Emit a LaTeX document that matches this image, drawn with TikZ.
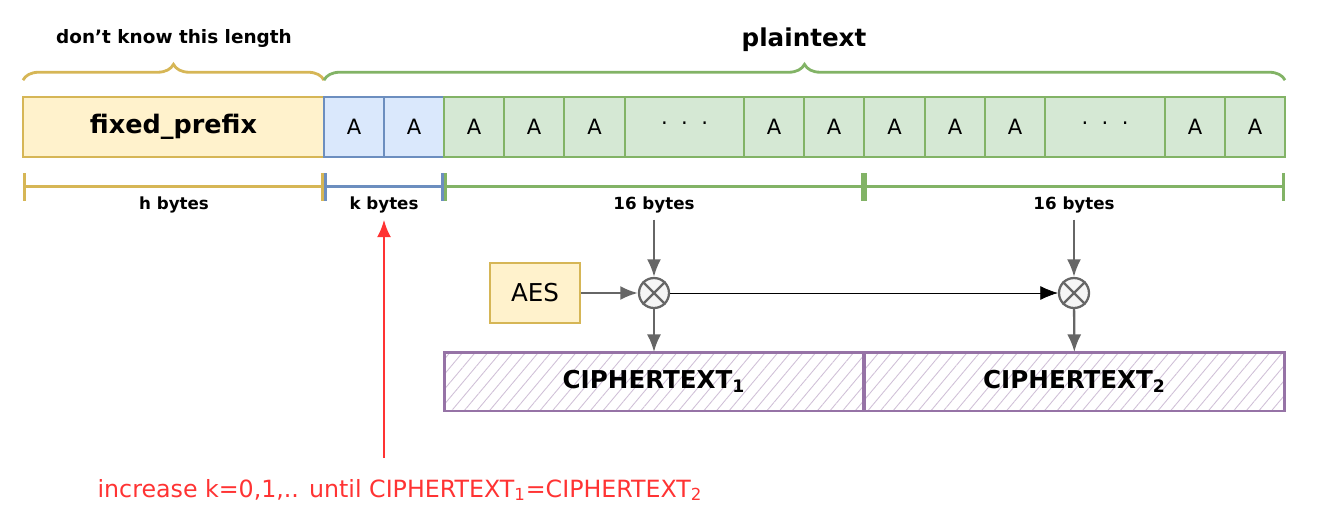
\documentclass[tikz,border=0pt]{standalone}
\usepackage{fontspec}
\setmainfont{DejaVu Sans}
\usetikzlibrary{arrows.meta,patterns.meta,decorations.pathreplacing,positioning}

\definecolor{yfill}{HTML}{FFF2CC}
\definecolor{ydraw}{HTML}{D6B656}
\definecolor{bfill}{HTML}{DAE8FC}
\definecolor{bdraw}{HTML}{6C8EBF}
\definecolor{gfill}{HTML}{D5E8D4}
\definecolor{gdraw}{HTML}{82B366}
\definecolor{pfill}{HTML}{E1D5E7}
\definecolor{pdraw}{HTML}{9673A6}
\definecolor{gline}{HTML}{666666}
\definecolor{noteRed}{HTML}{FF3333}

\tikzset{
  cell/.style={draw, line width=1.6pt, minimum height=1.2cm, inner sep=0pt,
    outer sep=0pt, font=\fontsize{12}{14}\selectfont},
  prefixcell/.style={cell, draw=ydraw, fill=yfill, font=\fontsize{14.5}{16}\selectfont\bfseries},
  kcell/.style={cell, draw=bdraw, fill=bfill},
  pcell/.style={cell, draw=gdraw, fill=gfill},
  cbox/.style={draw=pdraw, line width=1.7pt, minimum width=8.4cm, minimum height=1.18cm,
    inner sep=0pt, outer sep=0pt,
    pattern={Lines[angle=50, distance=5.5pt, line width=0.5pt]}, pattern color=pdraw!45,
    font=\fontsize{14}{16}\selectfont\bfseries},
  dimline/.style={line width=1.6pt, {Bar[width=16pt]}-{Bar[width=16pt]}},
  bracket/.style={line width=1.6pt, decorate,
    decoration={brace, amplitude=9pt}},
  lbl/.style={font=\fontsize{9.5}{11}\selectfont\bfseries},
  xorop/.style={circle, draw=gline, fill=black!4, line width=1.3pt,
    minimum size=0.6cm, inner sep=0pt},
  garrow/.style={draw=gline, line width=1.3pt, -{Latex[length=10pt, width=8pt]}},
}

\begin{document}
\begin{tikzpicture}[x=0.02cm, y=-0.02cm, >=Latex, semithick]
  \useasboundingbox (0,0) rectangle (1333,528);

  % plaintext row
  \node[prefixcell, minimum width=6.02cm, anchor=west] (prefix) at (23,127) {fixed\_prefix};
  \node[kcell, minimum width=1.2cm, anchor=west] (k1) at (324,127) {A};
  \node[kcell, minimum width=1.2cm, anchor=west] (k2) at (384,127) {A};
  \foreach \x/\w/\t [count=\i] in {444/60/A, 504/60/A, 564/61/A, 625/119/{\raisebox{4pt}{.\ \ .\ \ .}},
      744/60/A, 804/60/A, 864/61/A, 925/60/A, 985/60/A, 1045/120/{\raisebox{4pt}{.\ \ .\ \ .}},
      1165/60/A, 1225/60/A} {
    \node[pcell, minimum width=\w*0.02cm, anchor=west] (p\i) at (\x,127) {\t};
  }

  % braces on top
  \draw[ydraw, bracket] ([yshift=9.6pt]prefix.north west) -- ([yshift=9.6pt]prefix.north east);
  \draw[gdraw, bracket] ([yshift=9.6pt]k1.north west) -- ([yshift=9.6pt]p12.north east);
  \node[font=\fontsize{10.5}{12}\selectfont\bfseries] (unknown) at (174,38) {don't know this length};
  \node[font=\fontsize{14}{16}\selectfont\bfseries] (plain) at (804,40) {plaintext};

  % lengths
  \draw[ydraw, dimline] ([yshift=-17pt]prefix.south west) -- ([yshift=-17pt]prefix.south east);
  \draw[bdraw, dimline] ([yshift=-17pt]k1.south west) -- ([yshift=-17pt]k2.south east);
  \draw[gdraw, dimline] ([yshift=-17pt]p1.south west) -- ([yshift=-17pt]p6.south east);
  \draw[gdraw, dimline] ([yshift=-17pt]p7.south west) -- ([yshift=-17pt]p12.south east);
  \node[lbl] (hb) at (174,205) {h bytes};
  \node[lbl] (kb) at (384,205) {k bytes};
  \node[lbl] (b1) at (654,205) {16 bytes};
  \node[lbl] (b2) at (1074,205) {16 bytes};

  % encryption
  \node[draw=ydraw, fill=yfill, line width=1.6pt, minimum width=1.8cm, minimum height=1.2cm,
    font=\fontsize{14}{16}\selectfont] (aes) at (535,293) {AES};
  \node[xorop] (x1) at (654,293) {};
  \node[xorop] (x2) at (1074,293) {};
  \foreach \n in {x1,x2} {
    \draw[gline, line width=1.3pt] (\n.north east) -- (\n.south west)
      (\n.north west) -- (\n.south east);
  }
  \node[cbox] (c1) at (654,381.5) {CIPHERTEXT\textsubscript{1}};
  \node[cbox] (c2) at (1074.5,381.5) {CIPHERTEXT\textsubscript{2}};

  \draw[garrow] (b1) -- (x1);
  \draw[garrow] (b2) -- (x2);
  \draw[garrow] (aes) -- (x1);
  \draw[thin, -{Latex[length=10pt, width=8pt]}] (x1) -- (x2);
  \draw[garrow] (x1) -- (c1);
  \draw[garrow] (x2) -- (c2);

  % note
  \node[noteRed, font=\fontsize{13.5}{15}\selectfont] (note) at (400,490)
    {increase k=0,1,.. until CIPHERTEXT\textsubscript{1}=CIPHERTEXT\textsubscript{2}};
  \coordinate (kstart) at (384,458);
  \draw[noteRed, line width=1.6pt, -{Latex[length=10pt, width=8pt]}] (kstart) -- (kb);
\end{tikzpicture}
\end{document}
